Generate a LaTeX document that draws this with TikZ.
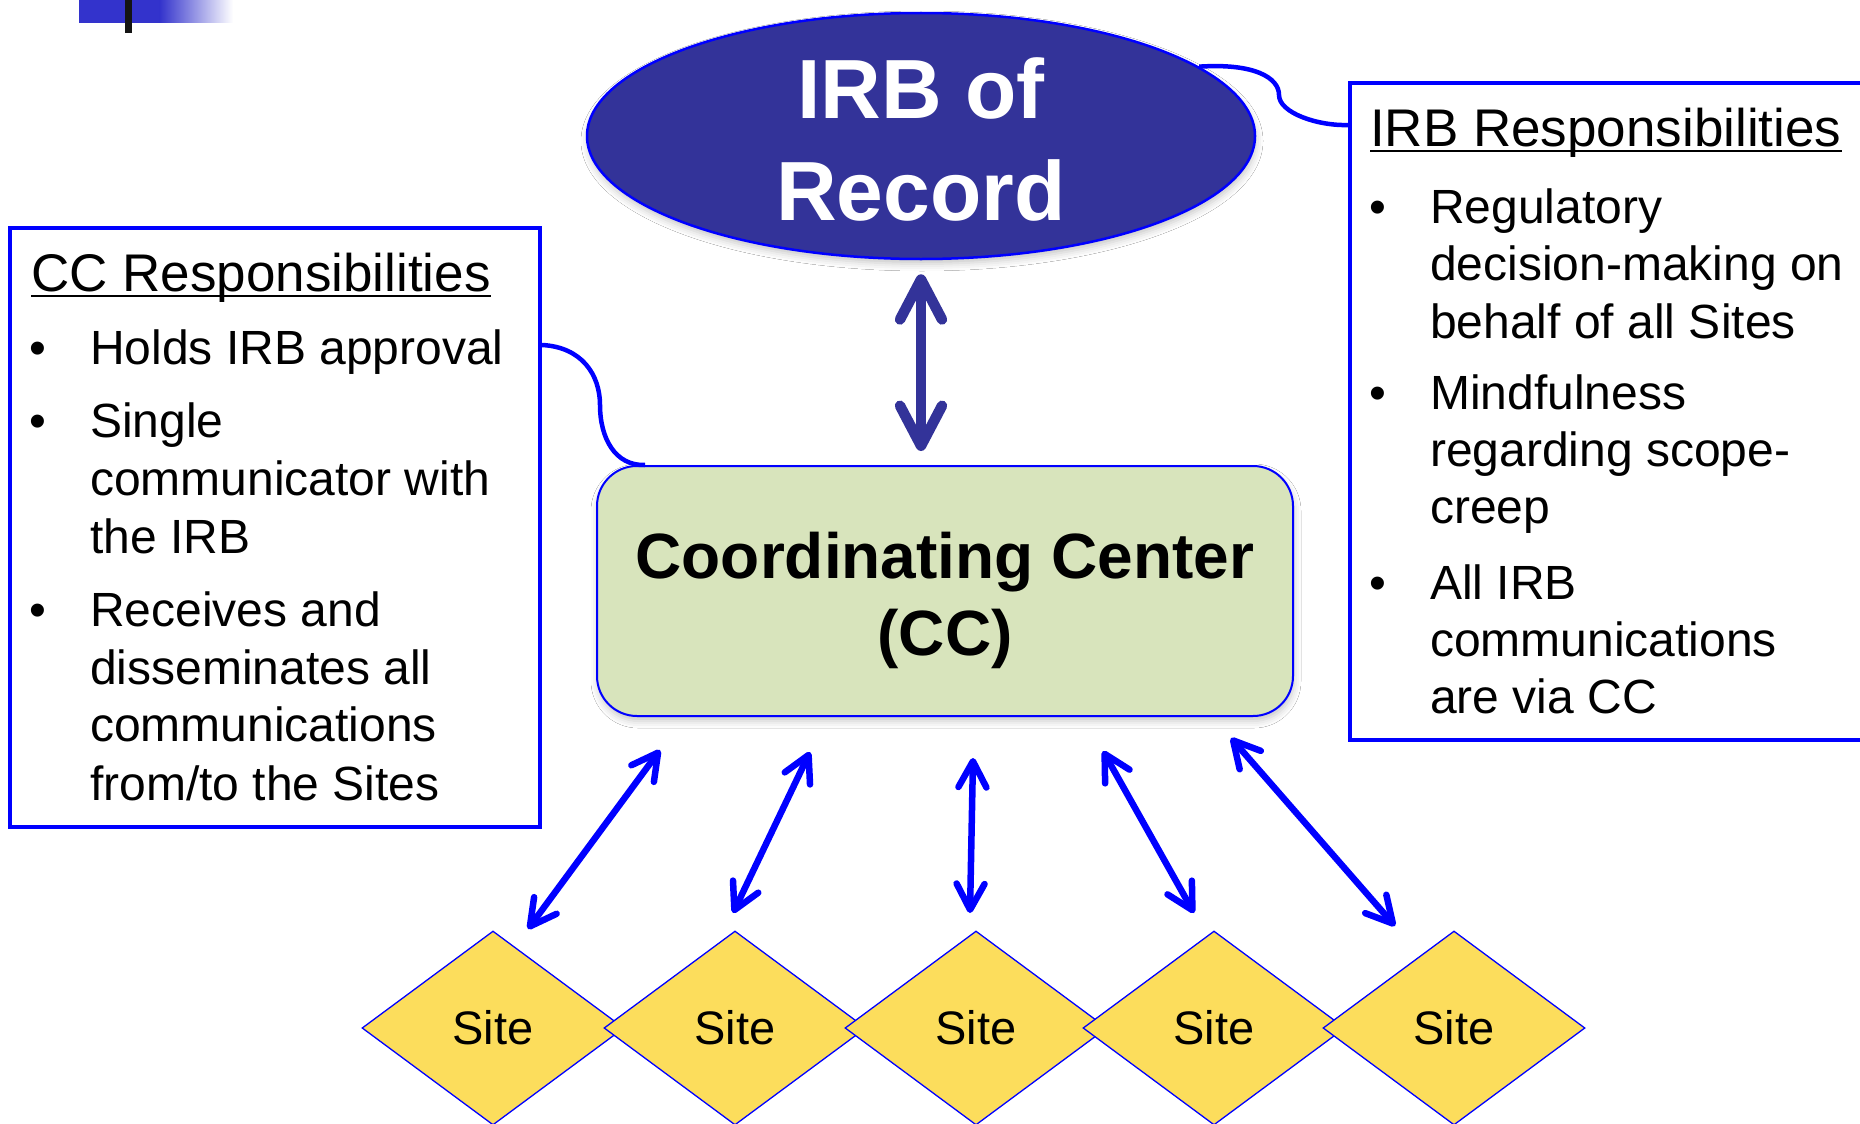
\documentclass[tikz,border=0pt]{standalone}
\usepackage{fontspec}
\setmainfont{Liberation Sans}
\usetikzlibrary{arrows.meta,shapes.geometric,calc,shadows.blur}

\definecolor{irbfill}{RGB}{51,51,153}
\definecolor{ccfill}{RGB}{216,228,188}
\definecolor{sitefill}{RGB}{252,221,92}
\definecolor{edgeblue}{RGB}{0,0,255}
\definecolor{barblue}{RGB}{51,51,204}
\definecolor{barblack}{RGB}{20,20,20}

% underlined heading with the rule close under the baseline
\newcommand\hdrul[1]{\setbox0=\hbox{#1}\rlap{\rule[-6pt]{\wd0}{2.5pt}}\box0}

\begin{document}
\begin{tikzpicture}[x=1pt,y=-1pt,
  boxframe/.style={rectangle, draw=edgeblue, line width=4pt, inner sep=0pt},
  hdr/.style={anchor=base west, inner sep=0pt, font=\fontsize{53}{60}\selectfont},
  itemtext/.style={anchor=base west, inner sep=0pt, font=\fontsize{48}{58}\selectfont},
  dot/.style={anchor=base, inner sep=0pt, font=\fontsize{48}{58}\selectfont},
  irbshape/.style={ellipse, draw=edgeblue, line width=2.5pt, fill=irbfill, inner sep=0pt,
    minimum width=668pt, minimum height=246pt,
    blur shadow={shadow xshift=1pt, shadow yshift=-5pt, shadow blur radius=7pt, shadow opacity=22}},
  irbtext/.style={anchor=base, inner sep=0pt, text=white, font=\bfseries\fontsize{84}{100}\selectfont},
  ccshape/.style={rectangle, rounded corners=40pt, draw=edgeblue, line width=2pt, fill=ccfill, inner sep=0pt,
    minimum width=696pt, minimum height=250pt,
    blur shadow={shadow xshift=1pt, shadow yshift=-5pt, shadow blur radius=7pt, shadow opacity=22}},
  cctext/.style={anchor=base, inner sep=0pt, font=\bfseries\fontsize{64}{76}\selectfont},
  sitebox/.style={diamond, draw=edgeblue, line width=1.3pt, fill=sitefill, inner sep=0pt,
    minimum width=262pt, minimum height=194pt, font=\fontsize{47}{50}\selectfont},
  irblink/.style={draw=irbfill, line width=10.5pt, >={Straight Barb[length=40pt,width=42pt,round]}, <->},
  sitelink/.style={draw=edgeblue, line width=6.5pt, >={Straight Barb[length=26pt,width=28pt,round]}, <->},
  callout/.style={draw=edgeblue, line width=4.5pt}
]
\path[use as bounding box] (0,0) rectangle (1860,1124);
\clip (0,0) rectangle (1860,1124);
\fill[white] (0,0) rectangle (1860,1124);

% corner ornament
\fill[barblue] (79,0) rectangle (160,23);
\shade[left color=barblue, right color=white] (159.5,0) rectangle (233,23);
\fill[barblack] (125,0) rectangle (132,33);

% IRB of Record
\node[irbshape] (irb) at (921,136) {};
\node[irbtext] (irbA) at (921,118) {IRB of};
\node[irbtext] (irbB) at (921,220) {Record};

% Coordinating Center
\node[ccshape] (cc) at (945,591) {};
\node[cctext] (ccA) at (945,578) {Coordinating Center};
\node[cctext] (ccB) at (945,655) {(CC)};

% IRB <-> CC
\draw[irblink, shorten <=14pt, shorten >=14pt] (irb.south) -- (irb.south |- cc.north);

% CC responsibilities
\node[boxframe, minimum width=530pt, minimum height=599pt] (lbox) at (275,527.5) {};
\node[hdr] (lh) at (31,291) {\hdrul{CC Responsibilities}};
\node[dot] (lb1) at (38,364) {\textbullet};
\node[itemtext] (l1) at (90,364) {Holds IRB approval};
\node[dot] (lb2) at (38,437) {\textbullet};
\node[itemtext] (l2) at (90,437) {Single};
\node[itemtext] (l3) at (90,495) {communicator with};
\node[itemtext] (l4) at (90,553) {the IRB};
\node[dot] (lb3) at (38,626) {\textbullet};
\node[itemtext] (l5) at (90,626) {Receives and};
\node[itemtext] (l6) at (90,684) {disseminates all};
\node[itemtext] (l7) at (90,741) {communications};
\node[itemtext] (l8) at (90,800) {from/to the Sites};

% IRB responsibilities
\node[boxframe, minimum width=524pt, minimum height=657pt] (rbox) at (1612,411.5) {};
\node[hdr] (rh) at (1370,146) {\hdrul{IRB Responsibilities}};
\node[dot] (rb1) at (1378,223) {\textbullet};
\node[itemtext] (r1) at (1430,223) {Regulatory};
\node[itemtext] (r2) at (1430,280) {decision-making on};
\node[itemtext] (r3) at (1430,338) {behalf of all Sites};
\node[dot] (rb2) at (1378,409) {\textbullet};
\node[itemtext] (r4) at (1430,409) {Mindfulness};
\node[itemtext] (r5) at (1430,466) {regarding scope-};
\node[itemtext] (r6) at (1430,523) {creep};
\node[dot] (rb3) at (1378,599) {\textbullet};
\node[itemtext] (r7) at (1430,599) {All IRB};
\node[itemtext] (r8) at (1430,656) {communications};
\node[itemtext] (r9) at (1430,713) {are via CC};

% callout lines
\draw[callout] ($(lbox.north east)+(0,119)$) .. controls (582,347) and (600,375) .. (600,405)
  .. controls (600,438) and (615,466) .. ($(cc.north west)+(49,0)$);
\draw[callout] (irb.14) .. controls (1255,63) and (1279,78) .. (1279,95)
  .. controls (1279,113) and (1318,126) .. ($(rbox.north west)+(0,44)$);

% sites
\node[sitebox] (s1) at (493,1028) {Site};
\node[sitebox] (s2) at (735,1028) {Site};
\node[sitebox] (s3) at (976,1028) {Site};
\node[sitebox] (s4) at (1214,1028) {Site};
\node[sitebox] (s5) at (1454,1028) {Site};

% arrow ends near the sites and near the CC
\coordinate (d1) at (528,929);  \coordinate (u1) at (660,750);
\coordinate (d2) at (733,913);  \coordinate (u2) at (810,752);
\coordinate (d3) at (970,913);  \coordinate (u3) at (973,758);
\coordinate (d4) at (1194,913); \coordinate (u4) at (1103,751);
\coordinate (d5) at (1395,926); \coordinate (u5) at (1231,738);

\draw[sitelink] (d1) -- (u1);
\draw[sitelink] (d2) -- (u2);
\draw[sitelink] (d3) -- (u3);
\draw[sitelink] (d4) -- (u4);
\draw[sitelink] (d5) -- (u5);
\end{tikzpicture}
\end{document}
